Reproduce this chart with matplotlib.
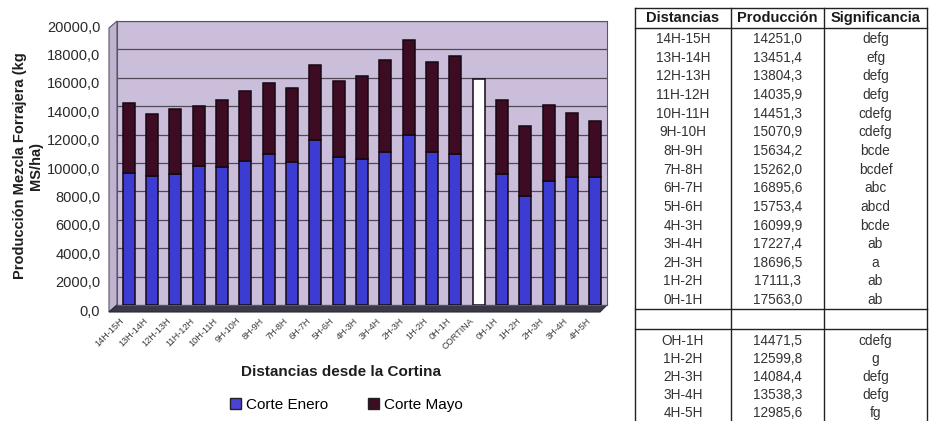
import matplotlib
matplotlib.use("Agg")
import matplotlib.pyplot as plt
from matplotlib.lines import Line2D
from matplotlib.patches import Patch, Polygon
from matplotlib.transforms import ScaledTranslation
import numpy as np

plt.rcParams['font.family'] = ['Liberation Sans', 'DejaVu Sans']

# ---- chart data ----
distancias = ["14H-15H", "13H-14H", "12H-13H", "11H-12H", "10H-11H", "9H-10H",
              "8H-9H", "7H-8H", "6H-7H", "5H-6H", "4H-3H", "3H-4H", "2H-3H",
              "1H-2H", "0H-1H", "CORTINA", "0H-1H", "1H-2H", "2H-3H", "3H-4H", "4H-5H"]
produccion = [14251.0, 13451.4, 13804.3, 14035.9, 14451.3, 15070.9, 15634.2,
              15262.0, 16895.6, 15753.4, 16099.9, 17227.4, 18696.5, 17111.3,
              17563.0, None, 14471.5, 12599.8, 14084.4, 13538.3, 12985.6]
corte_enero = [9330, 9050, 9240, 9820, 9750, 10150, 10650, 10060, 11590, 10390,
               10280, 10770, 11940, 10770, 10630, None, 9200, 7660, 8700, 8990, 8990]
cortina_valor = 15900

# ---- table data ----
tabla_dist_1 = ["14H-15H", "13H-14H", "12H-13H", "11H-12H", "10H-11H", "9H-10H",
                "8H-9H", "7H-8H", "6H-7H", "5H-6H", "4H-3H", "3H-4H", "2H-3H",
                "1H-2H", "0H-1H"]
tabla_prod_1 = ["14251,0", "13451,4", "13804,3", "14035,9", "14451,3", "15070,9",
                "15634,2", "15262,0", "16895,6", "15753,4", "16099,9", "17227,4",
                "18696,5", "17111,3", "17563,0"]
tabla_sig_1 = ["defg", "efg", "defg", "defg", "cdefg", "cdefg", "bcde", "bcdef",
               "abc", "abcd", "bcde", "ab", "a", "ab", "ab"]
tabla_dist_2 = ["OH-1H", "1H-2H", "2H-3H", "3H-4H", "4H-5H"]
tabla_prod_2 = ["14471,5", "12599,8", "14084,4", "13538,3", "12985,6"]
tabla_sig_2 = ["cdefg", "g", "defg", "defg", "fg"]

W, H = 930, 421
fig = plt.figure(figsize=(W / 100, H / 100), dpi=100)


def fx(px):
    return px / W


def fy(py):
    return 1 - py / H


# ---- bar chart ----
ax_l, ax_r, ax_t, ax_b = 117, 607, 21, 305
ax = fig.add_axes([fx(ax_l), fy(ax_b), fx(ax_r) - fx(ax_l), fy(ax_t) - fy(ax_b)])
ax.set_facecolor('#cbbedb')

azul = '#3c3cd2'
granate = '#3e0c22'
borde = '#150812'

x = np.arange(len(distancias))
enero = np.array([v if v is not None else np.nan for v in corte_enero], float)
total = np.array([v if v is not None else np.nan for v in produccion], float)
mayo = total - enero
mask = ~np.isnan(enero)
bw = 0.52
ax.bar(x[mask], enero[mask], width=bw, color=azul, edgecolor=borde, linewidth=1.1, zorder=3)
ax.bar(x[mask], mayo[mask], bottom=enero[mask], width=bw, color=granate,
       edgecolor=borde, linewidth=1.1, zorder=3)
ic = distancias.index("CORTINA")
ax.bar([x[ic]], [cortina_valor], width=bw, color='#ffffff', edgecolor=borde,
       linewidth=1.1, zorder=3)

ax.set_xlim(-0.5, len(distancias) - 0.5)
ax.set_ylim(0, 20000)
yt = np.arange(0, 20001, 2000)
ax.set_yticks(yt)
ax.set_yticklabels([f"{v:.1f}".replace('.', ',') for v in yt], fontsize=10.5, color='#2a2a2a')
ax.yaxis.grid(True, color='#4e4a58', linewidth=0.9, zorder=1)
ax.set_axisbelow(True)
ax.tick_params(axis='both', length=0)
ax.tick_params(axis='y', pad=12)
for lab in ax.get_yticklabels():
    lab.set_transform(lab.get_transform() + ScaledTranslation(0, -5 / 100, fig.dpi_scale_trans))

ax.set_xticks(x)
ax.set_xticklabels(distancias, rotation=45, ha='right', rotation_mode='anchor',
                   fontsize=6.6, color='#3a3a3a')
ax.tick_params(axis='x', pad=8)
for lab in ax.get_xticklabels():
    lab.set_transform(lab.get_transform() + ScaledTranslation(-9 / 100, 0, fig.dpi_scale_trans))

for s in ax.spines.values():
    s.set_color('#5a5566')
    s.set_linewidth(0.8)

# walls and floor giving the depth effect
fig.add_artist(Polygon([(fx(109), fy(28)), (fx(ax_l), fy(ax_t)), (fx(ax_l), fy(ax_b)),
                        (fx(109), fy(312))], closed=True, transform=fig.transFigure,
                       facecolor='#bfb3cf', edgecolor='#5a5566', linewidth=0.8, zorder=0))
fig.add_artist(Polygon([(fx(ax_l), fy(ax_b)), (fx(ax_r), fy(ax_b)), (fx(ax_r - 7), fy(312)),
                        (fx(109), fy(312))], closed=True, transform=fig.transFigure,
                       facecolor='#3b3848', edgecolor='#2a2835', linewidth=0.8, zorder=0))

fig.text(fx(28), fy(166), "Producción Mezcla Forrajera (kg\nMS/ha)", rotation=90,
         ha='center', va='center', fontsize=10.5, fontweight='bold', color='#1e1e1e',
         linespacing=1.2)
fig.text(fx(341), fy(372), "Distancias desde la Cortina", ha='center', va='center',
         fontsize=11, fontweight='bold', color='#1e1e1e')

handles = [Patch(facecolor='#4a44d6', edgecolor='#222'), Patch(facecolor=granate, edgecolor='#222')]
fig.legend(handles, ["Corte Enero", "Corte Mayo"], loc='center', ncol=2,
           bbox_to_anchor=(fx(346), fy(405)), frameon=False, fontsize=11,
           handlelength=0.75, handleheight=0.75, handletextpad=0.3, columnspacing=2.6)

# ---- table ----
c_left, c1, c2, c_right = 635, 731, 824, 927
col_x = [(c_left + c1) / 2, (c1 + c2) / 2, (c2 + c_right) / 2]
line_kw = dict(color='#222222', linewidth=1.0, transform=fig.transFigure)
top, head_b, gap_t, gap_b, bottom = 8, 28, 309, 329, 421

for yy in (top, head_b, gap_t, gap_b):
    fig.add_artist(Line2D([fx(c_left), fx(c_right)], [fy(yy), fy(yy)], **line_kw))
for xx in (c_left, c1, c2, c_right):
    fig.add_artist(Line2D([fx(xx), fx(xx)], [fy(top), fy(bottom)], **line_kw))

for cx, h in zip(col_x, ["Distancias", "Producción", "Significancia"]):
    fig.text(fx(cx), fy(18), h, ha='center', va='center', fontsize=10.5,
             fontweight='bold', color='#1a1a1a')

row_h1 = 18.65
for i, (d, p, s) in enumerate(zip(tabla_dist_1, tabla_prod_1, tabla_sig_1)):
    yy = 39 + i * row_h1
    for cx, t in zip(col_x, (d, p, s)):
        fig.text(fx(cx), fy(yy), t, ha='center', va='center', fontsize=9.8, color='#333333')

row_h2 = 18.0
for i, (d, p, s) in enumerate(zip(tabla_dist_2, tabla_prod_2, tabla_sig_2)):
    yy = 341 + i * row_h2
    for cx, t in zip(col_x, (d, p, s)):
        fig.text(fx(cx), fy(yy), t, ha='center', va='center', fontsize=9.8, color='#333333')

fig.savefig("out.png", dpi=100)
